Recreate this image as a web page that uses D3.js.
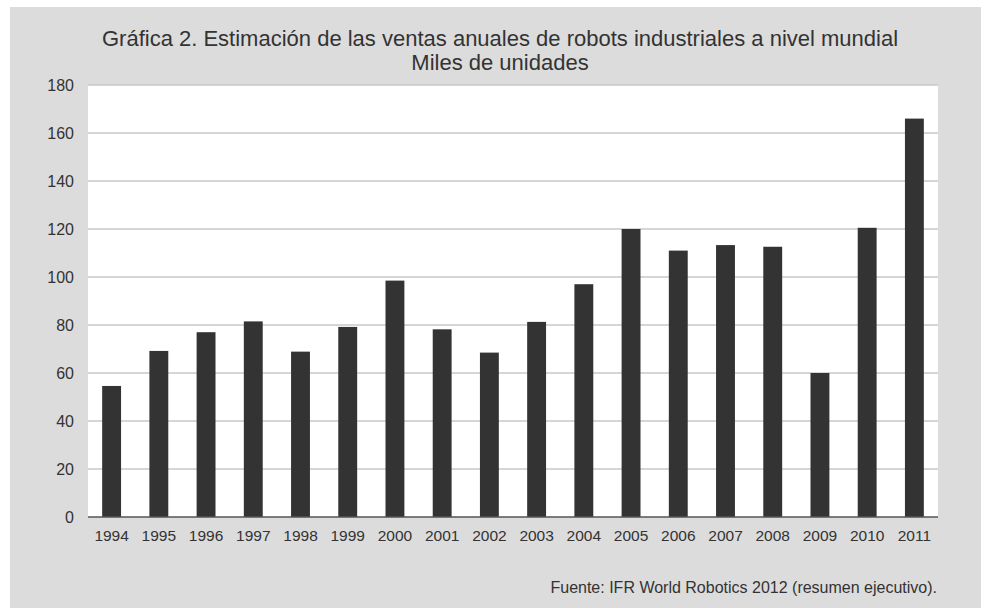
<!DOCTYPE html>
<html>
<head>
<meta charset="utf-8">
<script src="https://cdn.jsdelivr.net/npm/d3@7"></script>
<style>
  body { margin: 0; background: #fff; }
  text { font-family: "Liberation Sans", Arial, sans-serif; fill: #333; }
</style>
</head>
<body>
<script>
// values (miles de unidades)
var years = ["1994","1995","1996","1997","1998","1999","2000","2001","2002","2003",
             "2004","2005","2006","2007","2008","2009","2010","2011"];
var sales = [54.6, 69.2, 77, 81.5, 68.9, 79.2, 98.5, 78.2, 68.5, 81.3,
             97, 120, 111, 113.3, 112.6, 60, 120.5, 166];
var yTicks = [0, 20, 40, 60, 80, 100, 120, 140, 160, 180];
var titleLines = ["Gráfica 2. Estimación de las ventas anuales de robots industriales a nivel mundial",
                  "Miles de unidades"];
var source = "Fuente: IFR World Robotics 2012 (resumen ejecutivo).";

var W = 981, H = 608;
var margin = { top: 85, right: 43, bottom: 91, left: 88 }
    , width = W - margin.left - margin.right
    , height = H - margin.top - margin.bottom;

var svg = d3.select("body").append("svg")
    .attr("width", W)
    .attr("height", H);

// grey panel
svg.append("rect")
    .attr("x", 10).attr("y", 7)
    .attr("width", W - 10).attr("height", H - 7)
    .attr("fill", "#dcdcdc");

svg.selectAll(".title")
    .data(titleLines)
    .enter().append("text")
    .attr("class", "title")
    .attr("x", 500)
    .attr("y", function (d, i) { return 46 + i * 24; })
    .attr("text-anchor", "middle")
    .style("font-size", "22px")
    .text(function (d) { return d; });

var g = svg.append("g")
    .attr("transform", "translate(" + margin.left + "," + margin.top + ")");

g.append("rect")
    .attr("width", width).attr("height", height)
    .attr("fill", "#fff");

var x = d3.scaleBand()
    .domain(years)
    .range([0, width])
    .paddingInner(0.6)
    .paddingOuter(0.3);

var y = d3.scaleLinear()
    .domain([0, 180])
    .range([height, 0]);

// gridlines
g.selectAll(".grid")
    .data(yTicks.filter(function (d) { return d > 0; }))
    .enter().append("line")
    .attr("x1", 0).attr("x2", width)
    .attr("y1", function (d) { return y(d); })
    .attr("y2", function (d) { return y(d); })
    .attr("stroke", "#c8c8c8")
    .attr("stroke-width", 1.5);

g.selectAll(".bar")
    .data(sales)
    .enter().append("rect")
    .attr("class", "bar")
    .attr("x", function (d, i) { return x(years[i]); })
    .attr("y", function (d) { return y(d); })
    .attr("width", x.bandwidth())
    .attr("height", function (d) { return height - y(d); })
    .attr("fill", "#333333");

// zero line
g.append("line")
    .attr("x1", 0).attr("x2", width)
    .attr("y1", y(0)).attr("y2", y(0))
    .attr("stroke", "#555")
    .attr("stroke-width", 1.5);

var yAxis = g.append("g")
    .call(d3.axisLeft(y).tickValues(yTicks).tickSize(0).tickPadding(14));
yAxis.select(".domain").remove();
yAxis.selectAll("text").style("font-size", "16px").attr("fill", "#333");

var xAxis = g.append("g")
    .attr("transform", "translate(0," + height + ")")
    .call(d3.axisBottom(x).tickSize(0).tickPadding(13));
xAxis.select(".domain").remove();
xAxis.selectAll("text").style("font-size", "15.5px").attr("fill", "#333");

svg.append("text")
    .attr("x", 937)
    .attr("y", 593)
    .attr("text-anchor", "end")
    .style("font-size", "16px")
    .text(source);
</script>
</body>
</html>
